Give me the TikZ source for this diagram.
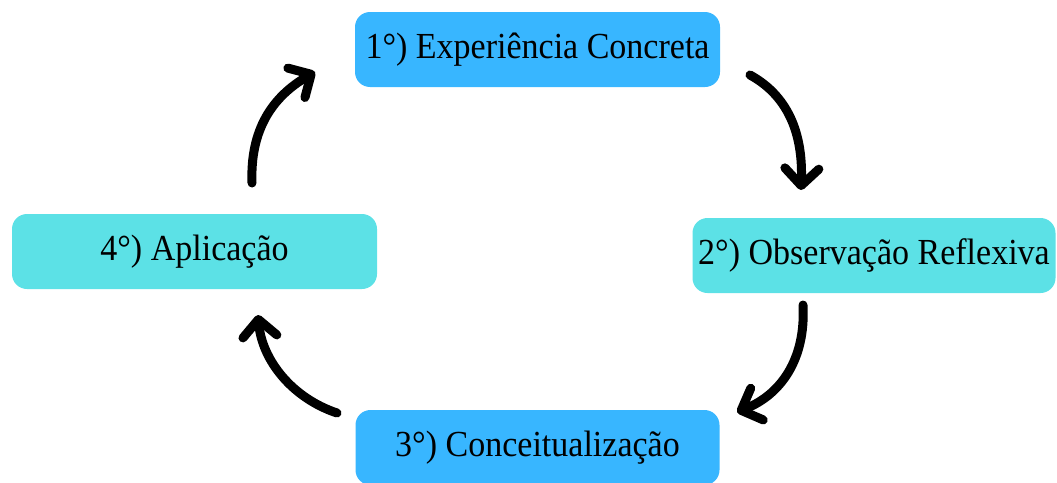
\documentclass[tikz,border=0pt]{standalone}
\usepackage{fontspec}
\setmainfont{Liberation Serif}
\usetikzlibrary{arrows.meta}
\definecolor{boxblue}{HTML}{38B6FF}
\definecolor{boxcyan}{HTML}{5CE1E6}
\begin{document}
\begin{tikzpicture}[x=1pt,y=-1pt,
  stagebox/.style={rounded corners=15pt, minimum width=#1, minimum height=75pt, inner sep=0pt,
    font=\fontsize{34}{36}\selectfont, text=black},
  cyclearrow/.style={line width=9pt, line cap=round, black,
    -{Straight Barb[length=17pt,width=34pt,round]}}]
\useasboundingbox (0,0) rectangle (1057,482);
\node[stagebox=365pt, fill=boxblue] (n1) at (537.5,49.5) {\scalebox{1}[1.08]{1°) Experiência Concreta}};
\node[stagebox=363pt, fill=boxcyan] (n2) at (874,255.5) {\scalebox{1}[1.08]{2°) Observação Reflexiva}};
\node[stagebox=364pt, fill=boxblue] (n3) at (537.5,447.5) {\scalebox{1}[1.08]{3°) Conceitualização}};
\node[stagebox=365pt, fill=boxcyan] (n4) at (194.5,251.5) {\scalebox{1}[1.08]{4°) Aplicação}};
\coordinate (a1s) at (750,75);
\coordinate (a1e) at (801,190);
\coordinate (a2s) at (803,305);
\coordinate (a2e) at (737,412);
\coordinate (a3s) at (337,413);
\coordinate (a3e) at (258,315);
\coordinate (a4s) at (252,183);
\coordinate (a4e) at (315,72);
\draw[cyclearrow] (a1s) .. controls (792,98) and (803,140) .. (a1e);
\draw[cyclearrow] (a2s) .. controls (806,360) and (780,395) .. (a2e);
\draw[cyclearrow] (a3s) .. controls (292,398) and (262,360) .. (a3e);
\draw[cyclearrow] (a4s) .. controls (250,130) and (272,97) .. (a4e);
\end{tikzpicture}
\end{document}
